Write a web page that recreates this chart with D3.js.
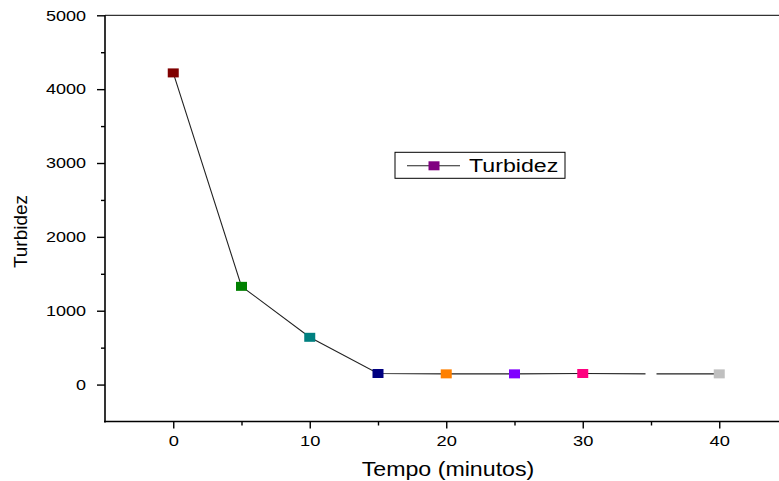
<!DOCTYPE html>
<html>
<head>
<meta charset="utf-8">
<script src="https://cdn.jsdelivr.net/npm/d3@7"></script>
<style>
  html, body { margin: 0; padding: 0; background: #fff; }
  svg { display: block; font-family: "Liberation Sans", Arial, sans-serif; }
</style>
</head>
<body>
<svg id="chart" width="779" height="481"></svg>
<script>
// Turbidity over time
const tempo    = [0, 5, 10, 15, 20, 25, 30, 35, 40];
const turbidez = [4220, 1330, 640, 150, 145, 145, 150, 145, 145];
const pointColors = ["#800000", "#008000", "#008080", "#000080", "#FF8000", "#8000FF", "#FF0080", "#FFFFFF", "#C0C0C0"];
const xMajorTicks = [0, 10, 20, 30, 40];
const xMinorTicks = [5, 15, 25, 35];
const yMajorTicks = [0, 1000, 2000, 3000, 4000, 5000];
const yMinorTicks = [500, 1500, 2500, 3500, 4500];
const seriesName = "Turbidez";
const legendColor = "#800080";

const svg = d3.select("#chart");
const plotLeft = 105, plotTop = 15.3, plotBottom = 421.5;
const FONT = "Liberation Sans, Arial, sans-serif";

// widen glyphs horizontally around each text's own x anchor
function widen(sel, s) {
  sel.each(function () {
    const t = d3.select(this);
    const ax = +t.attr("x") || 0;
    t.attr("transform", `translate(${ax},0) scale(${s},1) translate(${-ax},0)`);
  });
}

const x = d3.scaleLinear().domain([-5, 45]).range([plotLeft, plotLeft + 50 * 13.65]);
const y = d3.scaleLinear().domain([-500, 5000]).range([plotBottom, plotTop]);

// top frame line
svg.append("line")
  .attr("x1", plotLeft).attr("x2", 779)
  .attr("y1", y(5000)).attr("y2", y(5000))
  .attr("stroke", "#000").attr("stroke-width", 1);

// y axis
const yAxis = svg.append("g").attr("transform", `translate(${plotLeft},0)`);
yAxis.call(d3.axisLeft(y).tickValues(yMajorTicks).tickSize(8).tickPadding(11).tickFormat(d3.format("d")));
yAxis.append("g").call(d3.axisLeft(y).tickValues(yMinorTicks).tickSize(4).tickFormat(""));
yAxis.selectAll(".domain").remove();
yAxis.append("line").attr("x1", 0).attr("x2", 0).attr("y1", plotTop).attr("y2", plotBottom + 1)
  .attr("stroke", "#000").attr("stroke-width", 1.6);
yAxis.selectAll(".tick line").attr("stroke", "#000").attr("stroke-width", 1.4);
yAxis.selectAll(".tick text").attr("font-size", 15).attr("fill", "#000").attr("font-family", FONT)
  .call(widen, 1.2);

// x axis
const xAxis = svg.append("g").attr("transform", `translate(0,${plotBottom})`);
xAxis.call(d3.axisBottom(x).tickValues(xMajorTicks).tickSize(7).tickPadding(7).tickFormat(d3.format("d")));
xAxis.append("g").call(d3.axisBottom(x).tickValues(xMinorTicks).tickSize(4).tickFormat(""));
xAxis.selectAll(".domain").remove();
xAxis.append("line").attr("x1", plotLeft - 1).attr("x2", 779).attr("y1", 0).attr("y2", 0)
  .attr("stroke", "#000").attr("stroke-width", 1.6);
xAxis.selectAll(".tick line").attr("stroke", "#000").attr("stroke-width", 1.4);
xAxis.selectAll(".tick text").attr("font-size", 15).attr("fill", "#000").attr("font-family", FONT)
  .call(widen, 1.22);

// axis titles
svg.append("text")
  .attr("x", 448).attr("y", 476)
  .attr("text-anchor", "middle").attr("font-size", 20).attr("fill", "#000")
  .text("Tempo (minutos)")
  .call(widen, 1.16);
svg.append("text")
  .attr("transform", "translate(27,231.5) rotate(-90)")
  .attr("text-anchor", "middle").attr("font-size", 19).attr("fill", "#000")
  .text("Turbidez");

// data line
const data = tempo.map((t, i) => ({ t, v: turbidez[i], c: pointColors[i] }));
svg.append("path")
  .datum(data)
  .attr("fill", "none").attr("stroke", "#222").attr("stroke-width", 1.1)
  .attr("d", d3.line().x(d => x(d.t)).y(d => y(d.v)));

// markers
const mw = 11, mh = 9;
svg.selectAll("rect.pt").data(data).enter().append("rect")
  .attr("class", "pt")
  .attr("x", d => x(d.t) - mw / 2).attr("y", d => y(d.v) - mh / 2)
  .attr("width", mw).attr("height", mh)
  .attr("fill", d => d.c);

// legend
const lg = svg.append("g").attr("transform", "translate(395,152.3)");
lg.append("rect").attr("x", 0).attr("y", 0).attr("width", 170).attr("height", 26)
  .attr("fill", "#fff").attr("stroke", "#000").attr("stroke-width", 1);
lg.append("line").attr("x1", 12).attr("x2", 65).attr("y1", 13.5).attr("y2", 13.5)
  .attr("stroke", "#222").attr("stroke-width", 1.1);
lg.append("rect").attr("x", 39 - mw / 2).attr("y", 13.5 - mh / 2).attr("width", mw).attr("height", mh)
  .attr("fill", legendColor);
lg.append("text").attr("x", 74).attr("y", 19.5).attr("font-size", 19).attr("fill", "#000")
  .text(seriesName)
  .call(widen, 1.22);
</script>
</body>
</html>
